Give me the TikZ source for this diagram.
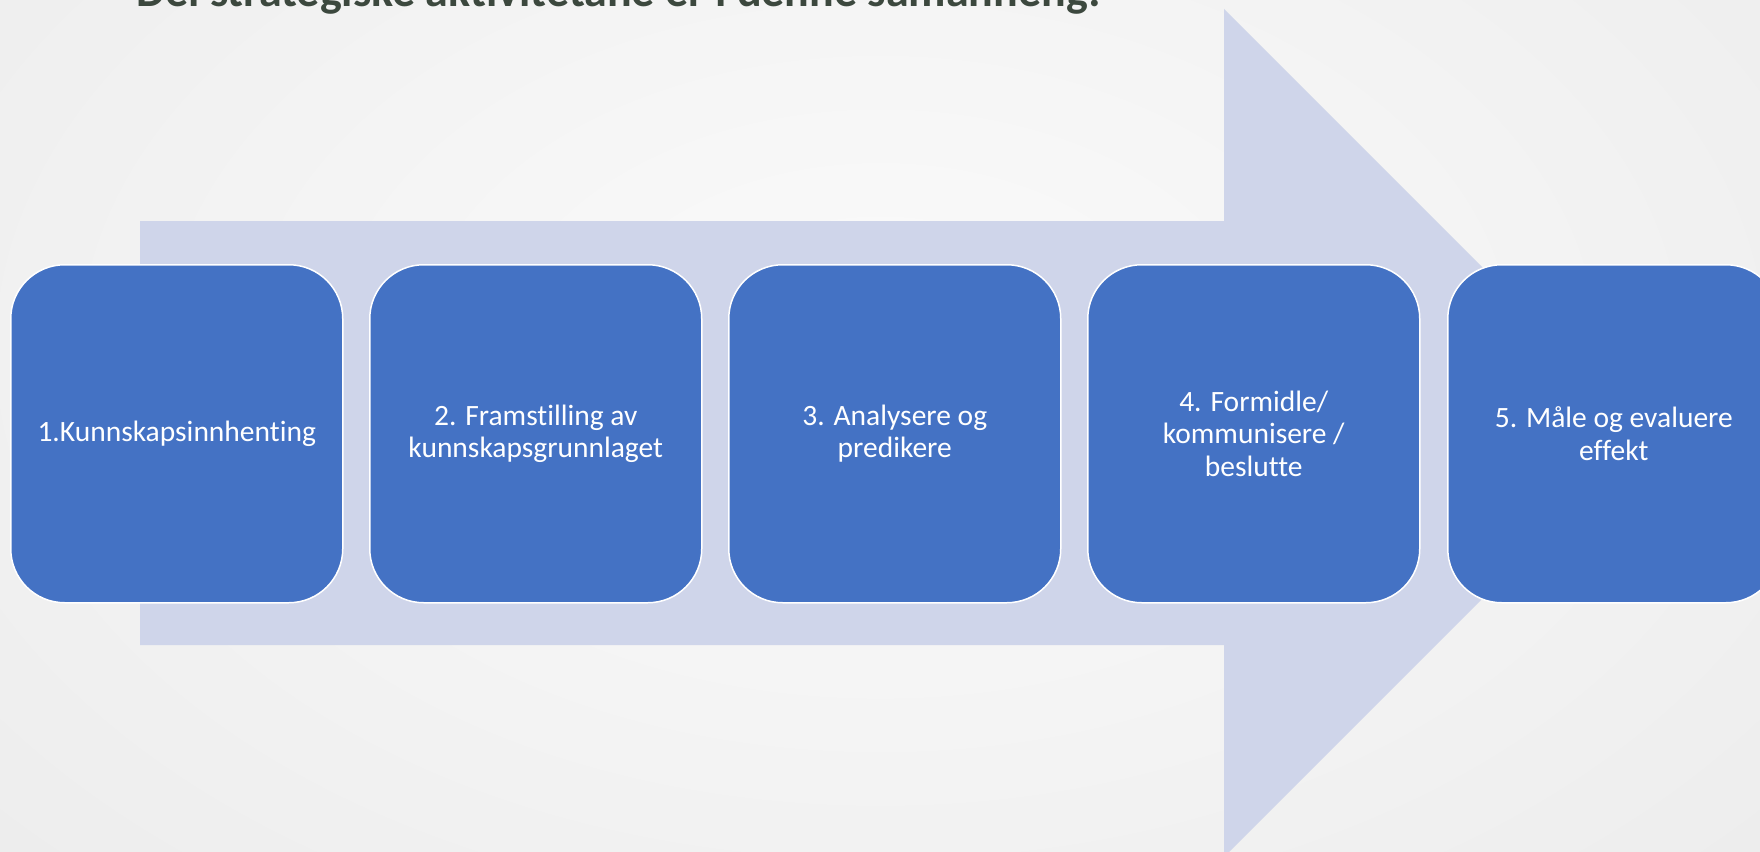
\documentclass[tikz,border=0pt]{standalone}
\usepackage{fontspec}
\setmainfont{Carlito}[Ligatures={NoCommon}]
\definecolor{bgouter}{RGB}{237,237,237}
\definecolor{bginner}{RGB}{251,251,251}
\definecolor{arrowfill}{RGB}{207,213,234}
\definecolor{boxfill}{RGB}{68,114,196}
\definecolor{titlecol}{RGB}{60,72,62}
\tikzset{
  stepbox/.style={draw=white, line width=1.5pt, fill=boxfill, rounded corners=54pt,
    minimum width=332pt, minimum height=338pt, inner sep=0pt, anchor=north west,
    text=white, align=center, font=\fontsize{29.5pt}{32.5pt}\selectfont},
}
\begin{document}
\begin{tikzpicture}[x=1pt,y=-1pt]
\useasboundingbox (0,0) rectangle (1760,851);
\clip (0,0) rectangle (1760,851);
\shade[inner color=bginner, outer color=bgouter] (-300,-400) rectangle (2060,1100);
\node[anchor=base west, inner sep=0pt, text=titlecol, font=\fontsize{46pt}{54pt}\selectfont\bfseries] (title) at (136,7) {Dei strategiske aktivitetane er i denne samanheng:};
\fill[arrowfill] (140,221) -- (1224,221) -- (1224,9) -- (1648,433) -- (1224,857) -- (1224,645) -- (140,645) -- cycle;
\node[stepbox] (b1) at (10,264) {1.Kunnskapsinnhenting};
\node[stepbox] (b2) at (369,264) {2. Framstilling av\\kunnskapsgrunnlaget};
\node[stepbox] (b3) at (728,264) {3. Analysere og\\predikere};
\node[stepbox] (b4) at (1087,264) {4. Formidle/\\kommunisere /\\beslutte};
\node[stepbox] (b5) at (1447,264) {5. Måle og evaluere\\effekt};
\end{tikzpicture}
\end{document}
